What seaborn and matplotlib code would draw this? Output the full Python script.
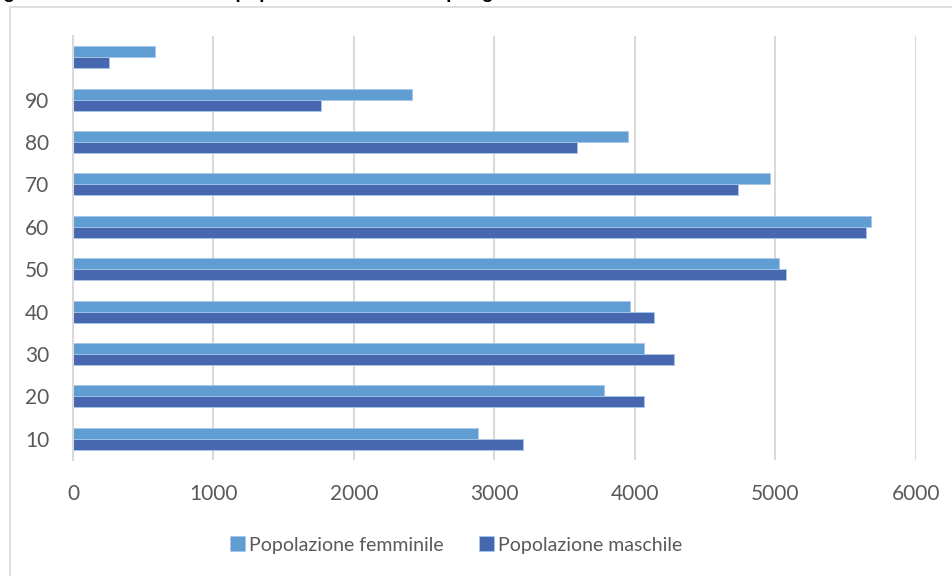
import pandas as pd
import seaborn as sns
import matplotlib.pyplot as plt
from matplotlib.patches import Rectangle

# Data (top to bottom)
age_groups = ["100", "90", "80", "70", "60", "50", "40", "30", "20", "10"]
age_labels = ["", "90", "80", "70", "60", "50", "40", "30", "20", "10"]
female = [587, 2415, 3949, 4960, 5680, 5029, 3963, 4067, 3782, 2885]
male = [254, 1769, 3588, 4737, 5648, 5076, 4138, 4276, 4063, 3203]
series = ["Popolazione femminile", "Popolazione maschile"]
x_ticks = [0, 1000, 2000, 3000, 4000, 5000, 6000]

df = pd.DataFrame({
    "eta": age_groups * 2,
    "valore": female + male,
    "serie": [series[0]] * len(age_groups) + [series[1]] * len(age_groups),
})

sns.set_style("white")
plt.rcParams["font.family"] = ["Lato", "DejaVu Sans"]

W, H = 953, 576
fig = plt.figure(figsize=(W / 100, H / 100), dpi=100)
ax = fig.add_axes([73 / W, 116 / H, (915.7 - 73) / W, 424 / H])

palette = {series[0]: "#5f9dd3", series[1]: "#4767ae"}
sns.barplot(data=df, x="valore", y="eta", hue="serie", order=age_groups,
            hue_order=series, palette=palette, orient="h", width=0.52,
            edgecolor="#a9c8ea", linewidth=0.6, saturation=1, ax=ax, legend=True)

ax.set_xlim(0, 6000)
ax.set_xticks(x_ticks)
ax.set_xticklabels([str(v) for v in x_ticks])
ax.set_yticks(range(len(age_groups)))
ax.set_yticklabels(age_labels)
ax.set_xlabel("")
ax.set_ylabel("")
ax.grid(axis="x", color="#d9d9d9", linewidth=1.5)
ax.set_axisbelow(True)
for s in ["top", "right", "bottom"]:
    ax.spines[s].set_visible(False)
ax.spines["left"].set_color("#d9d9d9")
ax.spines["left"].set_linewidth(1.5)
ax.tick_params(axis="x", length=0, pad=17, labelsize=15, labelcolor="#595959")
ax.tick_params(axis="y", length=0, pad=17, labelsize=15, labelcolor="#595959")

# legend below the plot
handles, labels = ax.get_legend_handles_labels()
ax.get_legend().remove()
fig.legend(handles, labels, loc="center", bbox_to_anchor=(456 / W, 1 - 545 / H),
           ncol=2, frameon=False, fontsize=14, handlelength=0.8, handleheight=0.8,
           handletextpad=0.2, columnspacing=1.8, labelcolor="#595959")

# chart frame (only left and top edges show)
fig.patches.append(Rectangle((10 / W, -0.1), 1.2, 1 - 7 / H + 0.1,
                             transform=fig.transFigure, fill=False,
                             edgecolor="#d9d9d9", linewidth=1.2))

# caption cut off at the top edge of the image
fig.text(-14 / W, 1 + 2 / H, "Figura 3: Andamento della popolazione residente per genere e fasce di età",
         ha="left", va="baseline", fontsize=14, fontweight="bold", color="black",
         family=["Liberation Sans", "DejaVu Sans"])

fig.savefig("out.png", dpi=100)
